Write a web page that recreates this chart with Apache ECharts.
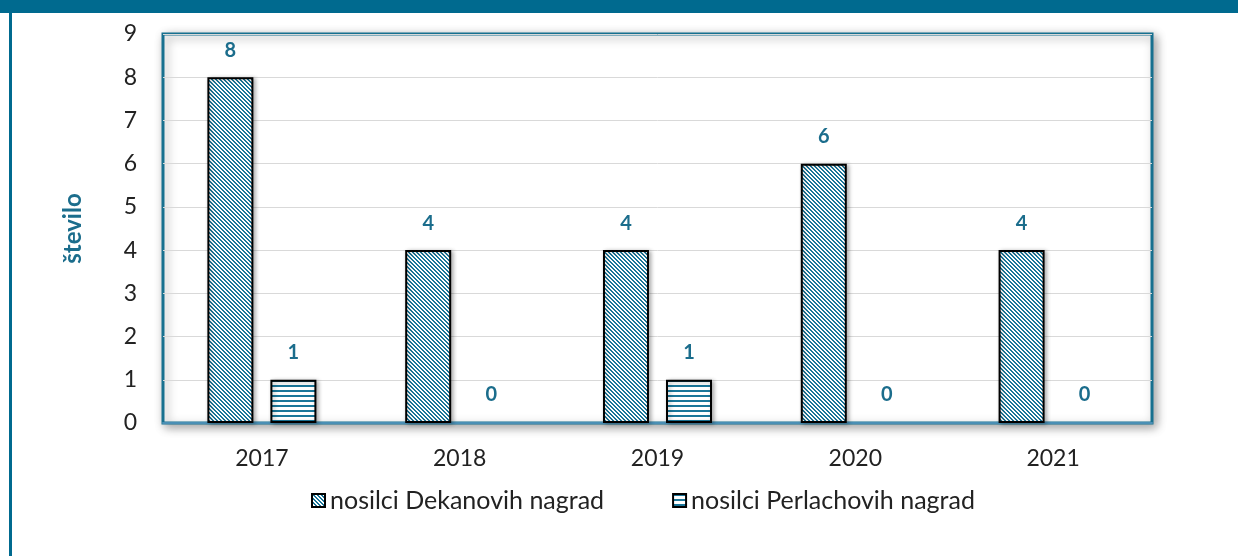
<!DOCTYPE html>
<html>
<head>
<meta charset="utf-8">
<script src="https://cdn.jsdelivr.net/npm/echarts@6/dist/echarts.min.js"></script>
<style>
  html, body { margin: 0; padding: 0; background: #fff; }
  #main { width: 1238px; height: 556px; }
</style>
</head>
<body>
<div id="main"></div>
<script>
var years = ["2017", "2018", "2019", "2020", "2021"];
var dekanovi = [8, 4, 4, 6, 4];
var perlachovi = [1, 0, 1, 0, 0];
var yTicks = [0, 1, 2, 3, 4, 5, 6, 7, 8, 9];

var TEAL = "#1a7699";

// diagonal stripes "\\"
function diagPattern() {
  var c = document.createElement("canvas");
  c.width = 4; c.height = 4;
  var ctx = c.getContext("2d");
  ctx.fillStyle = "#fff";
  ctx.fillRect(0, 0, 4, 4);
  ctx.fillStyle = TEAL;
  for (var x = 0; x < 4; x++) {
    for (var y = 0; y < 4; y++) {
      if (((x - y) % 4 + 4) % 4 < 2) ctx.fillRect(x, y, 1, 1);
    }
  }
  return c;
}
// horizontal stripes
function horizPattern() {
  var c = document.createElement("canvas");
  c.width = 4; c.height = 5;
  var ctx = c.getContext("2d");
  ctx.fillStyle = "#fff";
  ctx.fillRect(0, 0, 4, 5);
  ctx.fillStyle = TEAL;
  ctx.fillRect(0, 0, 4, 2);
  return c;
}

// zero bars are not drawn in the original, only their label
function hideZeros(arr) {
  return arr.map(function (v) {
    return v === 0
      ? { value: v, itemStyle: { borderColor: "transparent", shadowBlur: 0, shadowColor: "transparent" } }
      : v;
  });
}

var chart = echarts.init(document.getElementById("main"));
var labelStyle = {
  show: true,
  position: "top",
  distance: 17,
  color: "#1b6d8c",
  fontWeight: "bold",
  fontSize: 20,
  fontFamily: "Lato"
};
var barShadow = {
  borderColor: "#000",
  borderWidth: 2,
  shadowColor: "rgba(0,0,0,0.3)",
  shadowBlur: 4,
  shadowOffsetX: 2,
  shadowOffsetY: 1
};
chart.setOption({
  backgroundColor: "#fff",
  textStyle: { fontFamily: "Lato" },
  graphic: [
    { type: "rect", shape: { x: 0, y: 0, width: 1238, height: 13 }, style: { fill: "#006a8f" }, silent: true },
    { type: "rect", shape: { x: 9, y: 0, width: 3, height: 556 }, style: { fill: "#006a8f" }, silent: true }
  ],
  grid: {
    left: 163,
    top: 34,
    right: 86,
    bottom: 133,
    show: true,
    backgroundColor: "#fff",
    borderColor: "#17708f",
    borderWidth: 3,
    shadowColor: "rgba(0,0,0,0.35)",
    shadowBlur: 10,
    shadowOffsetX: 3,
    shadowOffsetY: 3
  },
  legend: {
    data: ["nosilci Dekanovih nagrad", "nosilci Perlachovih nagrad"],
    bottom: 38,
    left: 306,
    itemWidth: 13,
    itemHeight: 13,
    itemGap: 68,
    icon: "rect",
    textStyle: { fontSize: 25, color: "#222", fontFamily: "Lato" }
  },
  xAxis: {
    type: "category",
    data: years,
    axisLine: { lineStyle: { color: "#4a8fb5", width: 2 } },
    axisTick: { show: false },
    axisLabel: { fontSize: 23, color: "#222", margin: 24, fontFamily: "Lato" }
  },
  yAxis: {
    type: "value",
    min: yTicks[0],
    max: yTicks[yTicks.length - 1],
    interval: 1,
    name: "število",
    nameLocation: "middle",
    nameRotate: 90,
    nameGap: 78,
    nameTextStyle: { fontSize: 24, fontWeight: "bold", color: "#1b6d8c", fontFamily: "Lato" },
    axisLine: { show: false },
    axisTick: { show: false },
    axisLabel: { fontSize: 23, color: "#222", margin: 26, fontFamily: "Lato" },
    splitLine: { lineStyle: { color: "#d9d9d9", width: 1 } }
  },
  series: [
    {
      name: "nosilci Dekanovih nagrad",
      type: "bar",
      data: hideZeros(dekanovi),
      barWidth: 46,
      barGap: "37%",
      itemStyle: Object.assign({ color: { image: diagPattern(), repeat: "repeat" } }, barShadow),
      label: labelStyle
    },
    {
      name: "nosilci Perlachovih nagrad",
      type: "bar",
      data: hideZeros(perlachovi),
      barWidth: 46,
      itemStyle: Object.assign({ color: { image: horizPattern(), repeat: "repeat" } }, barShadow),
      label: labelStyle
    }
  ]
});
</script>
</body>
</html>
